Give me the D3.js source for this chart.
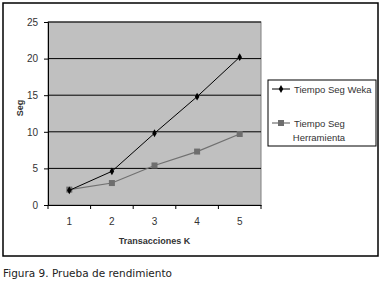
<!DOCTYPE html>
<html>
<head>
<meta charset="utf-8">
<script src="https://cdn.jsdelivr.net/npm/d3@7"></script>
<style>
  body { margin: 0; background: #fff; }
  svg { display: block; }
</style>
</head>
<body>
<svg id="chart" width="382" height="285"></svg>
<script>
// datos
var categorias = ["1", "2", "3", "4", "5"];
var weka = [2.0, 4.6, 9.8, 14.8, 20.2];
var herramienta = [2.1, 3.0, 5.4, 7.3, 9.7];
var yTicks = [0, 5, 10, 15, 20, 25];
var seriesNames = ["Tiempo Seg Weka", "Tiempo Seg Herramienta"];

var svg = d3.select('#chart'),
    pLeft = 48, pRight = 261, pTop = 22, pBottom = 205;

// marco exterior
svg.append("rect")
   .attr("x", 3).attr("y", 3)
   .attr("width", 375).attr("height", 253)
   .attr("fill", "#fff").attr("stroke", "#000").attr("stroke-width", 1.5);

var x = d3.scaleBand().domain(categorias).range([pLeft, pRight]);
var y = d3.scaleLinear().domain([0, 25]).range([pBottom, pTop]);

svg.append("rect")
   .attr("x", pLeft).attr("y", pTop)
   .attr("width", pRight - pLeft).attr("height", pBottom - pTop)
   .attr("fill", "#c0c0c0").attr("stroke", "#808080");

// lineas de cuadricula
svg.append("g").selectAll("line")
   .data(yTicks.slice(1))
   .enter().append("line")
   .attr("x1", pLeft).attr("x2", pRight)
   .attr("y1", function(d) { return y(d); })
   .attr("y2", function(d) { return y(d); })
   .attr("stroke", "#000");

var yAxis = svg.append("g")
   .attr("transform", "translate(" + pLeft + ",0)")
   .call(d3.axisLeft(y).tickValues(yTicks).tickSize(4).tickPadding(6));
var xAxis = svg.append("g")
   .attr("transform", "translate(0," + pBottom + ")")
   .call(d3.axisBottom(x).tickSize(0).tickPadding(13));

// marcas entre categorias
svg.append("g").selectAll("line")
   .data(categorias.concat(["fin"]))
   .enter().append("line")
   .attr("x1", function(d, i) { return pLeft + i * x.step(); })
   .attr("x2", function(d, i) { return pLeft + i * x.step(); })
   .attr("y1", pBottom).attr("y2", pBottom + 4)
   .attr("stroke", "#000");

[yAxis, xAxis].forEach(function(a) {
  a.select(".domain").attr("stroke", "#000");
  a.selectAll("text")
   .attr("font-family", "Arial, 'Liberation Sans', sans-serif")
   .attr("font-size", "10px")
   .attr("fill", "#333");
});

var line = d3.line()
   .x(function(d, i) { return x(categorias[i]) + x.bandwidth() / 2; })
   .y(function(d) { return y(d); });

svg.append("path").datum(herramienta)
   .attr("d", line).attr("fill", "none")
   .attr("stroke", "#707070").attr("stroke-width", 1.2);
svg.append("g").selectAll("rect")
   .data(herramienta)
   .enter().append("rect")
   .attr("x", function(d, i) { return x(categorias[i]) + x.bandwidth() / 2 - 3; })
   .attr("y", function(d) { return y(d) - 3; })
   .attr("width", 6).attr("height", 6)
   .attr("fill", "#6e6e6e");

svg.append("path").datum(weka)
   .attr("d", line).attr("fill", "none")
   .attr("stroke", "#000").attr("stroke-width", 1);
svg.append("g").selectAll("path")
   .data(weka)
   .enter().append("path")
   .attr("d", d3.symbol().type(d3.symbolDiamond).size(18))
   .attr("transform", function(d, i) {
     return "translate(" + (x(categorias[i]) + x.bandwidth() / 2) + "," + y(d) + ")";
   })
   .attr("fill", "#000");

// titulos de ejes
svg.append("text")
   .attr("transform", "translate(23,108) rotate(-90)")
   .attr("text-anchor", "middle")
   .attr("font-family", "Arial, 'Liberation Sans', sans-serif")
   .attr("font-size", "9px").attr("font-weight", "bold")
   .attr("fill", "#333")
   .text("Seg");
svg.append("text")
   .attr("x", (pLeft + pRight) / 2).attr("y", 244)
   .attr("text-anchor", "middle")
   .attr("font-family", "Arial, 'Liberation Sans', sans-serif")
   .attr("font-size", "9px").attr("font-weight", "bold")
   .attr("fill", "#333")
   .text("Transacciones K");

// leyenda
var lg = svg.append("g").attr("transform", "translate(268,80)");
lg.append("rect")
  .attr("width", 108).attr("height", 66)
  .attr("fill", "#fff").attr("stroke", "#000");
lg.append("line").attr("x1", 4).attr("x2", 22).attr("y1", 9).attr("y2", 9)
  .attr("stroke", "#000");
lg.append("path").attr("d", d3.symbol().type(d3.symbolDiamond).size(18))
  .attr("transform", "translate(13,9)").attr("fill", "#000");
lg.append("line").attr("x1", 4).attr("x2", 22).attr("y1", 43).attr("y2", 43)
  .attr("stroke", "#707070").attr("stroke-width", 1.2);
lg.append("rect").attr("x", 10).attr("y", 40).attr("width", 6).attr("height", 6)
  .attr("fill", "#6e6e6e");

var lgText = [
  { t: seriesNames[0], x: 26, y: 12.5, a: "start" },
  { t: "Tiempo Seg", x: 26, y: 46.5, a: "start" },
  { t: "Herramienta", x: 51, y: 60.5, a: "middle" }
];
lg.selectAll("text.lg")
  .data(lgText)
  .enter().append("text")
  .attr("class", "lg")
  .attr("x", function(d) { return d.x; })
  .attr("y", function(d) { return d.y; })
  .attr("text-anchor", function(d) { return d.a; })
  .attr("font-family", "Arial, 'Liberation Sans', sans-serif")
  .attr("font-size", "9.5px")
  .attr("fill", "#333")
  .text(function(d) { return d.t; });

// pie de figura
svg.append("text")
   .attr("x", 3).attr("y", 277)
   .attr("font-family", "'DejaVu Sans', sans-serif")
   .attr("font-size", "10.5px")
   .attr("fill", "#222")
   .text("Figura 9. Prueba de rendimiento");
</script>
</body>
</html>
